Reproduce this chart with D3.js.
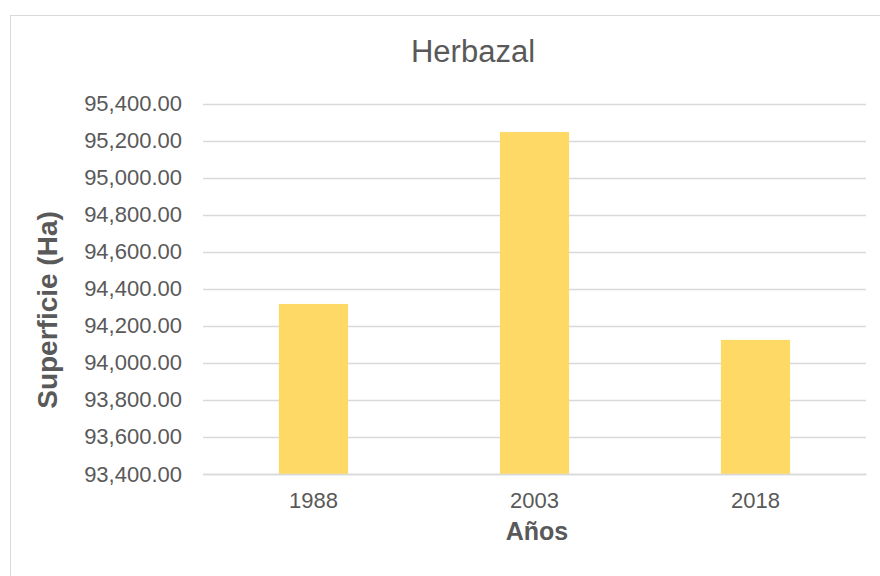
<!DOCTYPE html>
<html><head><meta charset="utf-8">
<script src="https://cdn.jsdelivr.net/npm/d3@7"></script>
<style>body{margin:0;background:#fff}svg{display:block}text{font-family:"Liberation Sans",Arial,sans-serif}</style>
</head><body>
<script>
const years = ["1988","2003","2018"];
const values = [94318, 95246, 94124];
const yTicks = [93400,93600,93800,94000,94200,94400,94600,94800,95000,95200,95400];
const title = "Herbazal";
const xTitle = "Años";
const yTitle = "Superficie (Ha)";

const W=880,H=576;
const svg=d3.select("body").append("svg").attr("width",W).attr("height",H);
svg.append("rect").attr("x",10.5).attr("y",15.5).attr("width",W).attr("height",H)
  .attr("fill","#fff").attr("stroke","#d9d9d9");

const x=d3.scaleBand().domain(years).range([203,866]).paddingInner(0.687).paddingOuter(0.3435);
const y=d3.scaleLinear().domain([93400,95400]).range([474,103.5]);

const g=svg.append("g");
g.selectAll("line.grid").data(yTicks).join("line").attr("class","grid")
  .attr("x1",203).attr("x2",866).attr("y1",d=>Math.round(y(d))+0.5).attr("y2",d=>Math.round(y(d))+0.5)
  .attr("stroke","#d9d9d9").attr("stroke-width",1.3);

g.selectAll("rect.bar").data(values).join("rect").attr("class","bar")
  .attr("x",(d,i)=>x(years[i])).attr("width",x.bandwidth())
  .attr("y",d=>y(d)).attr("height",d=>y(93400)-y(d)).attr("fill","#ffd966");

const fmt=d3.format(",.2f");
const ya=svg.append("g").attr("transform","translate(203,0)")
  .call(d3.axisLeft(y).tickValues(yTicks).tickFormat(fmt).tickSize(0).tickPadding(21));
ya.select(".domain").remove();
ya.selectAll("text").attr("font-size",22).attr("fill","#595959").style("font-family","Liberation Sans, Arial, sans-serif");

const xa=svg.append("g").attr("transform","translate(0,474)")
  .call(d3.axisBottom(x).tickSize(0).tickPadding(18));
xa.select(".domain").attr("stroke","#d9d9d9").attr("stroke-width",1.3);
xa.selectAll("text").attr("font-size",22).attr("fill","#595959").style("font-family","Liberation Sans, Arial, sans-serif");

svg.append("text").attr("x",473).attr("y",62).attr("text-anchor","middle")
  .attr("font-size",31).attr("fill","#595959").text(title);
svg.append("text").attr("x",537).attr("y",540).attr("text-anchor","middle")
  .attr("font-size",25).attr("font-weight","bold").attr("fill","#595959").text(xTitle);
svg.append("text").attr("transform","translate(57,310) rotate(-90)").attr("text-anchor","middle")
  .attr("font-size",28).attr("font-weight","bold").attr("fill","#595959").text(yTitle);
</script>
</body></html>
